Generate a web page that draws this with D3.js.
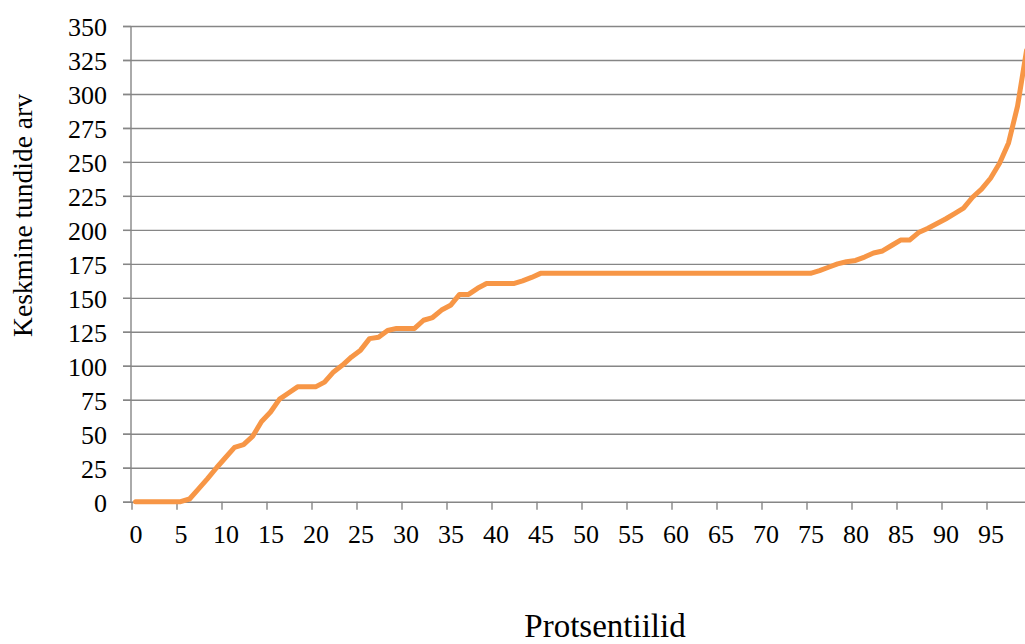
<!DOCTYPE html>
<html>
<head>
<meta charset="utf-8">
<script src="https://d3js.org/d3.v7.min.js"></script>
<style>
    body { margin: 0; background: #fff; }
    svg { display: block; }
    .axis path { display: none; }
    .axis line { stroke: #868686; stroke-width: 1.4px; }
    .grid line { stroke: #868686; stroke-width: 1.4px; }
    .grid path { display: none; }
</style>
</head>
<body>
<div id="chart"></div>
<script>

var serif = "'Liberation Serif', 'Times New Roman', serif";

// percentiles (categories on the x axis)
var percentiles = [
    0, 1, 2, 3, 4, 5, 6, 7, 8, 9,
    10, 11, 12, 13, 14, 15, 16, 17, 18, 19,
    20, 21, 22, 23, 24, 25, 26, 27, 28, 29,
    30, 31, 32, 33, 34, 35, 36, 37, 38, 39,
    40, 41, 42, 43, 44, 45, 46, 47, 48, 49,
    50, 51, 52, 53, 54, 55, 56, 57, 58, 59,
    60, 61, 62, 63, 64, 65, 66, 67, 68, 69,
    70, 71, 72, 73, 74, 75, 76, 77, 78, 79,
    80, 81, 82, 83, 84, 85, 86, 87, 88, 89,
    90, 91, 92, 93, 94, 95, 96, 97, 98, 99
];

// average number of hours
var hours = [
    0, 0, 0, 0, 0, 0, 2, 9.5, 17, 25,
    32.5, 40, 42, 48, 59, 66, 75.5, 80, 84.5, 84.5,
    84.5, 88, 95.5, 100.5, 106.5, 111.5, 120, 121, 126, 127.5,
    127.5, 127.5, 133.5, 135.5, 141, 144.5, 152.5, 152.5, 157, 160.5,
    160.5, 160.5, 160.5, 162.5, 165, 168, 168, 168, 168, 168,
    168, 168, 168, 168, 168, 168, 168, 168, 168, 168,
    168, 168, 168, 168, 168, 168, 168, 168, 168, 168,
    168, 168, 168, 168, 168, 168, 170, 172.5, 175, 176.5,
    177.5, 180, 183, 184.5, 188.5, 192.5, 192.5, 198, 201, 204.5,
    208, 212, 216, 224, 230, 238, 249, 264, 291, 332
];

var xTicks = [0, 5, 10, 15, 20, 25, 30, 35, 40, 45, 50, 55, 60, 65, 70, 75, 80, 85, 90, 95];
var yTicks = [0, 25, 50, 75, 100, 125, 150, 175, 200, 225, 250, 275, 300, 325, 350];

var width = 1025,
    height = 644;

var svg = d3.select("#chart")
    .append("svg")
    .attr("width", width)
    .attr("height", height);

// tick boundaries; each percentile sits a little right of its tick
var x = d3.scaleLinear()
    .domain([0, 100])
    .range([131.5, 1031.5]);

var offset = 0.45;

var y = d3.scaleLinear()
    .domain([0, 350])
    .range([501.7, 26]);

// horizontal gridlines
svg.append("g")
    .attr("class", "grid")
    .attr("transform", "translate(123,0)")
    .call(d3.axisLeft(y).tickValues(yTicks).tickSize(-(width - 123)).tickFormat(""));

// y axis
var yAxis = svg.append("g")
    .attr("class", "axis y-axis")
    .attr("transform", "translate(131,0)")
    .call(d3.axisLeft(y).tickValues(yTicks).tickSize(8).tickPadding(16));

yAxis.attr("font-family", serif).attr("font-size", 26);
yAxis.selectAll("text")
    .attr("dy", "0.36em")
    .style("font-family", serif)
    .style("font-size", "26px")
    .style("fill", "#000");

yAxis.append("line")
    .attr("x1", 0).attr("x2", 0)
    .attr("y1", y(350)).attr("y2", y(0));

// x axis
var xAxis = svg.append("g")
    .attr("class", "axis x-axis")
    .attr("transform", "translate(0," + y(0) + ")")
    .call(d3.axisBottom(x).tickValues(xTicks).tickSize(8).tickPadding(0));

xAxis.attr("font-family", serif).attr("font-size", 26);
xAxis.selectAll("text")
    .attr("x", 4)
    .attr("y", 41)
    .attr("dy", 0)
    .style("font-family", serif)
    .style("font-size", "26px")
    .style("fill", "#000");

// the line
var line = d3.line()
    .x(function(d, i) { return x(percentiles[i] + offset); })
    .y(function(d) { return y(d); });

svg.append("path")
    .datum(hours)
    .attr("fill", "none")
    .attr("stroke", "#F79646")
    .attr("stroke-width", 5)
    .attr("stroke-linejoin", "round")
    .attr("stroke-linecap", "round")
    .attr("d", line);

// axis titles
svg.append("text")
    .attr("text-anchor", "middle")
    .style("font-family", serif)
    .style("font-size", "27.5px")
    .attr("transform", "translate(32,215.5) rotate(-90)")
    .text("Keskmine tundide arv");

svg.append("text")
    .attr("text-anchor", "middle")
    .style("font-family", serif)
    .style("font-size", "33px")
    .attr("x", 605)
    .attr("y", 637)
    .text("Protsentiilid");

</script>
</body>
</html>
